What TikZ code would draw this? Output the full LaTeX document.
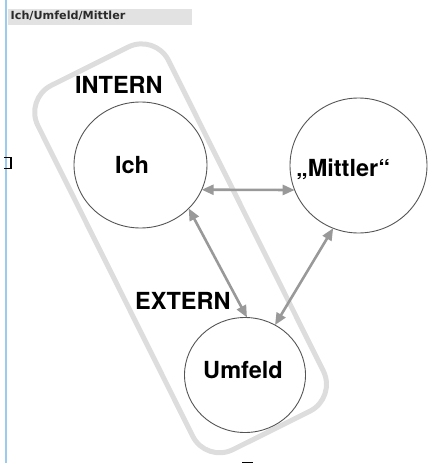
\documentclass[tikz,border=0pt]{standalone}
\usepackage{fontspec}
\setmainfont{TeX Gyre Heros}
\newfontfamily\titlefont{DejaVu Sans}
\usetikzlibrary{shapes.geometric,arrows.meta}
\definecolor{circgray}{HTML}{555555}
\definecolor{arrgray}{HTML}{999999}
\definecolor{bandgray}{HTML}{DDDDDD}
\definecolor{blueline}{HTML}{9CCBF0}
\definecolor{titlebg}{HTML}{E2E2E2}
\definecolor{titletext}{HTML}{2A2A2A}
\begin{document}
\begin{tikzpicture}[x=1pt,y=-1pt,
  circ/.style={ellipse, draw=circgray, line width=0.9pt, inner sep=0pt, outer sep=0pt},
  lbl/.style={font=\bfseries\fontsize{23.5}{28}\selectfont, inner sep=0pt, anchor=base},
  grouplbl/.style={font=\bfseries\fontsize{23.5}{28}\selectfont, inner sep=0pt, anchor=base west},
  arr/.style={draw=arrgray, line width=2.6pt, {Triangle[length=12pt,width=10pt]}-{Triangle[length=12pt,width=10pt]}},
  bandbox/.style={draw=bandgray, line width=5pt, rounded corners=30pt, inner sep=0pt, outer sep=0pt}
]
\useasboundingbox (0,0) rectangle (428,463);
% page decorations
\draw[blueline, line width=1.5pt] (6,0) -- (6,463);
\draw[black, line width=1.3pt] (4,157.5) -- (11,157.5) -- (11,168.5) -- (4,168.5);
\draw[black, line width=1.3pt] (242,462.5) -- (253,462.5);
% title
\fill[titlebg] (8,9) rectangle (192,24.5);
\node[font=\titlefont\bfseries\fontsize{11.2}{13}\selectfont, text=titletext, inner sep=0pt, anchor=base west] (title) at (10.5,19.5) {Ich/Umfeld/Mittler};
% group band
\node[bandbox, minimum width=407pt, minimum height=146pt, rotate=-63.5] (grp) at (180.6,248.3) {};
% circles
\node[circ, minimum width=133pt, minimum height=126pt] (ich) at (140.5,165) {};
\node[circ, minimum width=137pt, minimum height=135pt] (mit) at (358.5,165.5) {};
\node[circ, minimum width=121pt, minimum height=115pt] (umf) at (245,375) {};
% labels
\node[lbl] (ichl) at (132,173.5) {Ich};
\node[lbl] (mitl) at (343,176.5) {„Mittler“};
\node[lbl] (umfl) at (243,378.5) {Umfeld};
\node[grouplbl] (intern) at (75,93) {INTERN};
\node[grouplbl] (extern) at (135,309) {EXTERN};
% arrows
\draw[arr] (ich.-22) -- (mit.-159);
\draw[arr] (ich.-42) -- (umf.88);
\draw[arr] (umf.59.5) -- (mit.-112);
\end{tikzpicture}
\end{document}
